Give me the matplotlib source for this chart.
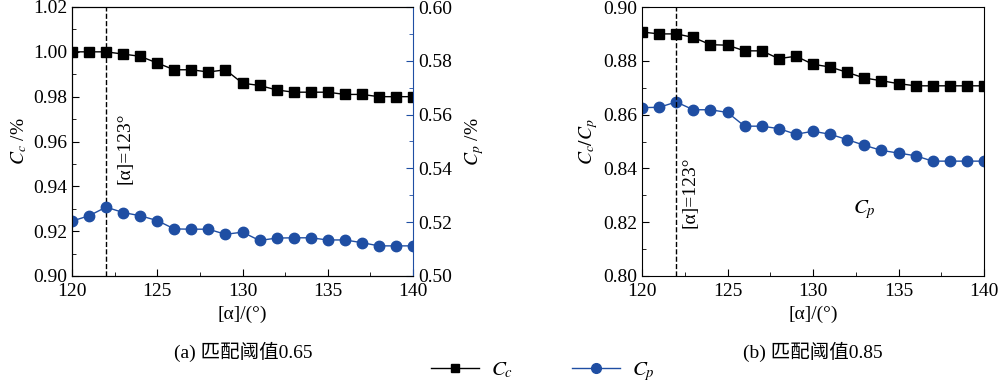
import matplotlib
matplotlib.use("Agg")
import matplotlib.pyplot as plt
from matplotlib.ticker import MultipleLocator, FormatStrFormatter
from matplotlib.lines import Line2D

# 数据
angle = list(range(120, 141))
cc_a = [1.000, 1.000, 1.000, 0.999, 0.998, 0.995, 0.992, 0.992, 0.991, 0.992, 0.986,
        0.985, 0.983, 0.982, 0.982, 0.982, 0.981, 0.981, 0.980, 0.980, 0.980]
cp_a = [0.5204, 0.5224, 0.5256, 0.5236, 0.5224, 0.5206, 0.5175, 0.5174, 0.5174, 0.5155, 0.5163,
        0.5132, 0.5141, 0.5142, 0.5142, 0.5134, 0.5134, 0.5124, 0.5112, 0.5112, 0.5112]
cc_b = [0.8907, 0.8900, 0.8900, 0.8887, 0.8860, 0.8858, 0.8837, 0.8837, 0.8808, 0.8817, 0.8787,
        0.8777, 0.8757, 0.8736, 0.8726, 0.8715, 0.8707, 0.8707, 0.8707, 0.8707, 0.8707]
cp_b = [0.8626, 0.8627, 0.8647, 0.8618, 0.8618, 0.8608, 0.8557, 0.8557, 0.8548, 0.8527, 0.8538,
        0.8527, 0.8507, 0.8486, 0.8467, 0.8457, 0.8447, 0.8427, 0.8427, 0.8427, 0.8427]
vline_x = 122
captions = ["(a) 匹配阈值0.65", "(b) 匹配阈值0.85"]

blue = "#1f4ea3"
plt.rcParams["font.family"] = ["Liberation Serif", "Noto Sans CJK SC"]
plt.rcParams["mathtext.fontset"] = "stix"
plt.rcParams["font.size"] = 14
plt.rcParams["xtick.direction"] = "in"
plt.rcParams["ytick.direction"] = "in"

fig = plt.figure(figsize=(10, 3.85), dpi=100)

H = 385.0
bottom = 1 - 276 / H
height = (276 - 7) / H

def style_x(ax):
    ax.set_xlim(120, 140)
    ax.xaxis.set_major_locator(MultipleLocator(5))
    ax.xaxis.set_minor_locator(MultipleLocator(2.5))
    ax.set_xlabel("[α]/(°)", labelpad=4)
    ax.tick_params(which="major", length=5)
    ax.tick_params(which="minor", length=3)
    ax.tick_params(axis="x", pad=5)

# 子图(a)
ax1 = fig.add_axes([0.072, bottom, 0.341, height])
ax1.plot(angle, cc_a, color="black", marker="s", markersize=7, lw=1)
ax1.set_ylim(0.90, 1.02)
ax1.yaxis.set_major_locator(MultipleLocator(0.02))
ax1.yaxis.set_minor_locator(MultipleLocator(0.01))
ax1.yaxis.set_major_formatter(FormatStrFormatter("%.2f"))
ax1.set_ylabel(r"$C_c$ /%", labelpad=3)
style_x(ax1)
ax1.axvline(vline_x, color="black", ls="--", lw=1)
ax1.text(123.1, 0.957, "[α]=123°", rotation=90, ha="center", va="center")
ax1.spines["right"].set_visible(False)

ax2 = ax1.twinx()
ax2.plot(angle, cp_a, color=blue, marker="o", markersize=7.5, lw=1)
ax2.set_ylim(0.50, 0.60)
ax2.yaxis.set_major_locator(MultipleLocator(0.02))
ax2.yaxis.set_minor_locator(MultipleLocator(0.01))
ax2.yaxis.set_major_formatter(FormatStrFormatter("%.2f"))
ax2.set_ylabel(r"$C_p$ /%", labelpad=8)
ax2.spines["right"].set_color(blue)
ax2.tick_params(axis="y", which="both", colors=blue, labelcolor="black")
ax2.tick_params(which="major", length=5)
ax2.tick_params(which="minor", length=3)

# 子图(b)
ax3 = fig.add_axes([0.642, bottom, 0.342, height])
ax3.plot(angle, cc_b, color="black", marker="s", markersize=7, lw=1)
ax3.plot(angle, cp_b, color=blue, marker="o", markersize=7.5, lw=1)
ax3.set_ylim(0.80, 0.90)
ax3.yaxis.set_major_locator(MultipleLocator(0.02))
ax3.yaxis.set_minor_locator(MultipleLocator(0.01))
ax3.yaxis.set_major_formatter(FormatStrFormatter("%.2f"))
ax3.set_ylabel(r"$C_c/C_p$", labelpad=2)
style_x(ax3)
ax3.axvline(vline_x, color="black", ls="--", lw=1)
ax3.text(122.8, 0.831, "[α]=123°", rotation=90, ha="center", va="center")
ax3.text(133, 0.8247, r"$C_p$", ha="center", va="center", fontsize=15)

# 图注
fig.text(0.243, 1 - 352 / H, captions[0], ha="center", va="center", fontsize=14)
fig.text(0.813, 1 - 352 / H, captions[1], ha="center", va="center", fontsize=14)

handles = [Line2D([], [], color="black", marker="s", markersize=6, lw=1),
           Line2D([], [], color=blue, marker="o", markersize=7, lw=1)]
fig.legend(handles, [r"$C_c$", r"$C_p$"], loc="center", bbox_to_anchor=(0.543, 1 - 372 / H),
           ncol=2, frameon=False, handlelength=2.3, columnspacing=2.8, fontsize=15,
           borderaxespad=0, handletextpad=0.6)

fig.savefig("out.png", dpi=100)
